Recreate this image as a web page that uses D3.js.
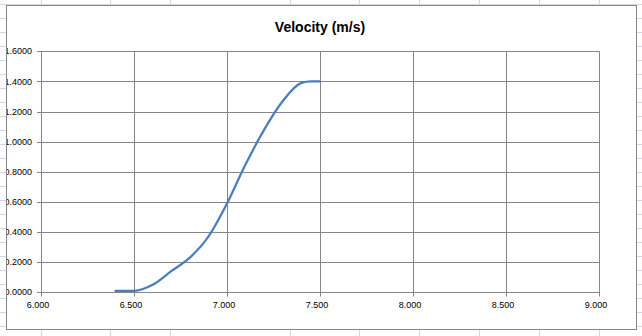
<!DOCTYPE html>
<html><head><meta charset="utf-8">
<script src="https://cdn.jsdelivr.net/npm/d3@7"></script>
<style>html,body{margin:0;padding:0;background:#fff;overflow:hidden}</style>
</head><body>
<script>
// Data
const timeValues = [6.4, 6.5, 6.6, 6.7, 6.8, 6.9, 7.0, 7.1, 7.2, 7.3, 7.4, 7.45, 7.5];
const velocityValues = [0.01, 0.01, 0.05, 0.14, 0.23, 0.37, 0.59, 0.85, 1.08, 1.27, 1.39, 1.40, 1.40];
const xTicks = [6.0, 6.5, 7.0, 7.5, 8.0, 8.5, 9.0];
const yTicks = [0, 0.2, 0.4, 0.6, 0.8, 1.0, 1.2, 1.4, 1.6];
const chartTitle = "Velocity (m/s)";

const W = 642, H = 336;
const svg = d3.select("body").append("svg").attr("width", W).attr("height", H);

// spreadsheet background gridlines
const sheetCols = [41, 110, 170, 290, 359, 419, 479, 539, 599];
const sheetRows = d3.range(4, H, 14);
const bg = svg.append("g").attr("stroke", "#d0d7e5").attr("stroke-width", 1);
bg.selectAll("line.c").data(sheetCols).join("line")
  .attr("x1", d => d + 0.5).attr("x2", d => d + 0.5).attr("y1", 0).attr("y2", H);
bg.selectAll("line.r").data(sheetRows).join("line")
  .attr("x1", 0).attr("x2", W).attr("y1", d => d + 0.5).attr("y2", d => d + 0.5);

// chart area
const cx0 = 6, cy0 = 5, cx1 = 636, cy1 = 329;
svg.append("rect").attr("x", cx0 + 0.5).attr("y", cy0 + 0.5)
  .attr("width", cx1 - cx0).attr("height", cy1 - cy0)
  .attr("fill", "#fff").attr("stroke", "#878787").attr("stroke-width", 1);

svg.append("defs").append("clipPath").attr("id", "ca").append("rect")
  .attr("x", cx0 + 1).attr("y", cy0 + 1).attr("width", cx1 - cx0 - 1).attr("height", cy1 - cy0 - 1);

const g = svg.append("g").attr("clip-path", "url(#ca)");

const x = d3.scaleLinear().domain([6.0, 9.0]).range([41, 599]);
const y = d3.scaleLinear().domain([0, 1.6]).range([292.3, 51.3]);

const px = v => Math.round(v) + 0.5;

// gridlines
const grid = g.append("g").attr("stroke", "#868686").attr("stroke-width", 1).attr("fill", "none");
grid.selectAll("line.h").data(yTicks).join("line")
  .attr("x1", 37).attr("x2", px(x(9.0))).attr("y1", d => px(y(d))).attr("y2", d => px(y(d)));
grid.selectAll("line.v").data(xTicks).join("line")
  .attr("x1", d => px(x(d))).attr("x2", d => px(x(d))).attr("y1", px(y(1.6))).attr("y2", px(y(0)) + 4);

// y tick labels
g.append("g").selectAll("text").data(yTicks).join("text")
  .attr("x", 32).attr("y", d => y(d)).attr("dy", "0.35em")
  .attr("text-anchor", "end")
  .attr("font-family", "Liberation Sans, Arial, sans-serif").attr("font-size", 9).attr("fill", "#000")
  .text(d => d3.format(".4f")(d));

// x tick labels
g.append("g").selectAll("text").data(xTicks).join("text")
  .attr("x", d => x(d) - 3).attr("y", 308)
  .attr("text-anchor", "middle")
  .attr("font-family", "Liberation Sans, Arial, sans-serif").attr("font-size", 9).attr("fill", "#000")
  .text(d => d3.format(".3f")(d));

// title
g.append("text").attr("x", 320).attr("y", 32).attr("text-anchor", "middle")
  .attr("font-family", "Liberation Sans, Arial, sans-serif").attr("font-size", 14).attr("font-weight", "bold")
  .attr("fill", "#000").text(chartTitle);

// series
const pts = timeValues.map((t, i) => [t, velocityValues[i]]);
g.append("path").datum(pts)
  .attr("fill", "none").attr("stroke", "#4a7ebb").attr("stroke-width", 2.25)
  .attr("stroke-linejoin", "round").attr("stroke-linecap", "round")
  .attr("d", d3.line().x(d => x(d[0])).y(d => y(d[1])).curve(d3.curveMonotoneX));
</script>
</body></html>
